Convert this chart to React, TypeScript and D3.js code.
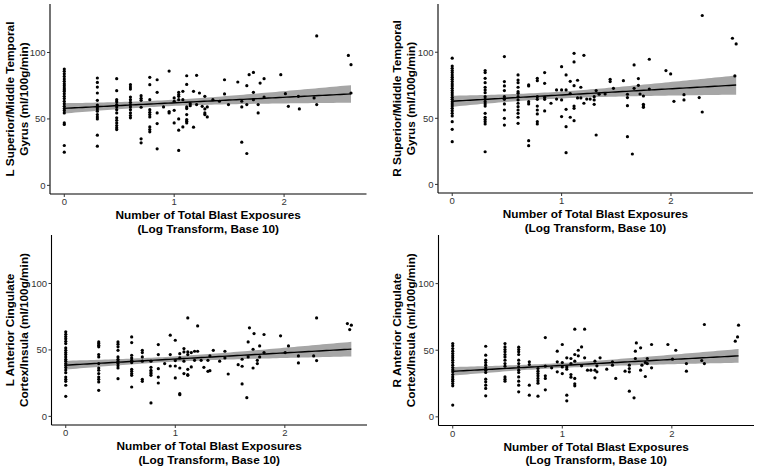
import React from "react";
import * as d3 from "d3";

// ---- Data: [x (log10 blast exposures), y values at that x] ----
const lSTG: [number, number[]][] = [
  [0, [87.5, 85.8, 84, 82, 80, 78.3, 76.5, 75, 73.3, 72, 70.8, 69, 67, 65.3, 63.3, 61.5, 59.5, 57.8, 56.3, 54.5, 47, 45.8, 30, 25]],
  [0.301, [80.8, 77.5, 74, 69.5, 64, 60.5, 59, 57.5, 55.8, 53.3, 51.5, 50, 37.8, 29.5]],
  [0.477, [80.3, 71.3, 64.5, 63, 60.8, 59, 57, 54.5, 50.8, 49, 47, 45, 43.3, 42]],
  [0.602, [75.8, 74, 72.5, 66.5, 64.5, 62.5, 60.8, 59, 57, 54.5, 52.5, 50.8]],
  [0.699, [67.5, 65.5, 64, 58.8, 35, 32]],
  [0.778, [81.3, 75.8, 64.5, 57, 55, 53.3, 51.5, 44, 42, 40.3]],
  [0.845, [79.5, 70, 54.5, 46.5, 27.5]],
  [0.903, [59]],
  [0.954, [86, 55.5, 54.5]],
  [1, [65.8, 63.3, 56.5, 47]],
  [1.041, [70, 68.3, 67, 64.5, 50, 41.5, 26.3]],
  [1.079, [70.8, 64.5, 44]],
  [1.114, [82.5, 76, 59, 57.8, 53.3, 49.5, 48.3, 47]],
  [1.146, [61.5, 60]],
  [1.176, [70.8, 43.8]],
  [1.204, [82.8, 60.8]],
  [1.23, [69.5]],
  [1.255, [59.5]],
  [1.279, [67, 57.5, 54.5, 53.3]],
  [1.301, [59, 51.5]],
  [1.352, [64.5]],
  [1.412, [63.3]],
  [1.458, [79.5, 68.8]],
  [1.494, [60.8]],
  [1.579, [77.8]],
  [1.615, [63.3, 59, 32.5]],
  [1.661, [75, 60.8, 24]],
  [1.682, [83.3]],
  [1.721, [85, 70, 64.5]],
  [1.764, [60.8, 54.5]],
  [1.782, [77]],
  [1.818, [80.3, 66.5]],
  [1.97, [83.3]],
  [2.012, [69]],
  [2.039, [59.5]],
  [2.13, [67]],
  [2.139, [57.5]],
  [2.273, [65.8]],
  [2.297, [112.5, 60.8]],
  [2.585, [97.8]],
  [2.609, [90.8, 69.5]],
];

const rSTG: [number, number[]][] = [
  [0, [95.5, 89.6, 87.9, 86.1, 84.6, 82.8, 81.1, 79.5, 77.8, 76, 74.5, 72.7, 71, 69.4, 67.7, 65.9, 64.4, 62.6, 60.9, 59.3, 57.6, 55.8, 53.8, 51.8, 47.5, 41.7, 32.3]],
  [0.301, [86.1, 84.6, 80.3, 77, 73.5, 71.5, 69.4, 66.4, 64.4, 62.6, 60.9, 59.3, 53.8, 50.8, 49.2, 47.5, 45.7, 24.7]],
  [0.477, [96.7, 77.8, 74.5, 71, 66.4, 64.4, 60.9, 56.3, 50, 44.9]],
  [0.602, [82.8, 79, 77, 73.5, 70.2, 68.9, 66.4, 63.9, 61.4, 58.8, 56.3, 53.8, 50.8, 46.2]],
  [0.699, [75.3, 74.5, 62.6, 60.9, 33.1, 29.3]],
  [0.778, [80.3, 78.5, 66.4, 64.4, 59.3, 56.3, 53.3, 47.5, 45.7]],
  [0.845, [84.6, 76.5, 65.9, 64.4, 55.6]],
  [0.903, [61.4]],
  [0.954, [71.5, 64.6]],
  [1, [89.1, 71.5, 63.9, 51.3]],
  [1.041, [82.8, 71.5, 56.8, 43.7, 24]],
  [1.079, [78, 68.7, 50.8]],
  [1.114, [99.2, 92.7, 74.7, 59.3, 57.6, 48.2]],
  [1.146, [78.8, 65.4]],
  [1.176, [73.5, 65.4]],
  [1.204, [97.7, 61.4]],
  [1.23, [64.6]],
  [1.261, [64.6]],
  [1.298, [66.4, 63.9, 60.6]],
  [1.316, [71, 37.4]],
  [1.343, [68.2]],
  [1.398, [68.4]],
  [1.444, [77.8, 79.5]],
  [1.474, [72.7]],
  [1.565, [78.5]],
  [1.602, [68.2, 65.7, 59.6, 36.1]],
  [1.647, [23]],
  [1.663, [90.4, 72.7]],
  [1.702, [80.1, 75]],
  [1.717, [68.4]],
  [1.748, [66.9, 60.6, 59.3, 58.3]],
  [1.802, [94.7, 72.2]],
  [1.954, [86.1]],
  [1.997, [83.6]],
  [2.027, [62.9]],
  [2.119, [67.9, 63.9]],
  [2.258, [65.7]],
  [2.286, [127.8, 54.8]],
  [2.562, [110.6]],
  [2.584, [82.1]],
  [2.596, [106.3]],
];

const lACC: [number, number[]][] = [
  [0, [63.6, 61.8, 60.1, 58.5, 56.5, 54.8, 51.5, 49.7, 48, 46.5, 44.7, 43, 41.5, 39.7, 38.4, 36.7, 34.9, 32.9, 29.6, 27.9, 26.4, 23.4, 15.1]],
  [0.301, [56, 54.8, 53.5, 52.3, 46.5, 44.7, 39.7, 36.4, 34.7, 32.2, 29.6, 27.9, 25.9, 19.6]],
  [0.477, [56, 54.3, 52.3, 49.7, 44.7, 43, 41.5, 39.7, 38, 36.4, 28.4]],
  [0.602, [59.8, 55.5, 46, 44, 42.2, 40.5, 35.4, 33.9, 32.2, 30.9, 22.1]],
  [0.699, [49.7, 48, 44.7, 41.5, 27.9, 26.4]],
  [0.778, [41.5, 36.9, 34.7, 33.4, 32.2, 30.9, 10.1]],
  [0.845, [54, 46.5, 35.9, 29.6, 25.1]],
  [0.903, [39.7]],
  [0.954, [61.1, 46.5, 37.9]],
  [1, [57.3, 42, 37.9, 28.9]],
  [1.041, [47.2, 44, 36.4, 17.1, 16.3]],
  [1.079, [51, 48.5, 41.5, 32.2]],
  [1.114, [74.1, 48.5, 46.5, 35.4, 31.4, 30.9]],
  [1.146, [48, 37.2]],
  [1.176, [49, 42.2]],
  [1.204, [68.1, 49]],
  [1.236, [42.2]],
  [1.261, [36.9]],
  [1.298, [42.2, 33.9]],
  [1.316, [45.5, 34.4]],
  [1.347, [49.7]],
  [1.405, [41.5]],
  [1.453, [49, 44]],
  [1.483, [31.9]],
  [1.574, [38.9]],
  [1.61, [43, 37.7, 24.4]],
  [1.653, [14.1]],
  [1.665, [56, 44.7]],
  [1.677, [66.6]],
  [1.71, [50.5, 36.4]],
  [1.719, [62.3]],
  [1.749, [42.2, 39.7]],
  [1.77, [53, 44.7]],
  [1.81, [61.6, 48]],
  [1.961, [60.6]],
  [2.003, [48]],
  [2.033, [53]],
  [2.124, [45.5, 40.2]],
  [2.263, [45.5]],
  [2.29, [74.1, 42]],
  [2.571, [69.8]],
  [2.592, [65.3]],
  [2.607, [68.6]],
];

const rACC: [number, number[]][] = [
  [0, [55, 53.3, 51.3, 49.3, 47.5, 45.8, 44.3, 42.5, 40.8, 38.8, 37, 35.3, 33.8, 31.8, 30, 28.3, 26.8, 25, 23.3, 8.8]],
  [0.301, [53, 46.3, 42.5, 40.8, 38.8, 36.8, 35, 33.3, 28.3, 26.3, 23.8, 21.3, 15.8]],
  [0.477, [55, 52.5, 50.5, 48.8, 46.8, 45, 42.5, 40, 38, 30, 28.3, 26.8]],
  [0.602, [52.3, 50.5, 48.8, 46.8, 42.5, 40, 37.5, 35, 33.3, 30, 26.8, 23.8, 18.8]],
  [0.699, [41.3, 39.3, 23.8, 16.3]],
  [0.778, [36.3, 34.3, 32.5, 30.8, 28.8, 27, 25.3, 15.5]],
  [0.845, [59.5, 38, 30.8, 28.8, 20.3]],
  [0.903, [36.8]],
  [0.954, [49.3, 41.3, 33.8]],
  [1, [54.3, 40.8, 37.5, 32.5]],
  [1.041, [44.3, 37.5, 35.8, 16.3, 12]],
  [1.079, [43.8, 40, 31.8, 29.8]],
  [1.114, [65.8, 46.8, 41.8, 28.8, 24.8, 23.3]],
  [1.146, [50, 45.8]],
  [1.176, [52.5, 38.3]],
  [1.204, [65.8, 44.3]],
  [1.23, [35]],
  [1.261, [35]],
  [1.298, [41.8, 35, 29.3]],
  [1.316, [38.3, 33.8]],
  [1.345, [44.3]],
  [1.406, [35.8]],
  [1.458, [41.3, 38.8]],
  [1.488, [28.8]],
  [1.573, [34.3]],
  [1.612, [38.8, 36.3, 33.8, 19.3]],
  [1.655, [14.3]],
  [1.667, [49.3, 43.8]],
  [1.676, [55.5]],
  [1.715, [51.8, 35]],
  [1.727, [38.8]],
  [1.758, [40.8, 30.3]],
  [1.776, [43.8, 40]],
  [1.815, [54.3, 36.8]],
  [1.964, [54.3]],
  [2.006, [43.3]],
  [2.036, [50]],
  [2.133, [40, 34.3]],
  [2.273, [42.3]],
  [2.297, [69.3, 40]],
  [2.579, [56.8]],
  [2.6, [60]],
  [2.609, [68.8]],
];

const xTicks = [0, 1, 2];
const yTicks = [0, 50, 100];
const xDomain: [number, number] = [-0.13, 2.75];
const yDomain: [number, number] = [-6.5, 136.5];
const xTitle = ["Number of Total Blast Exposures", "(Log Transform, Base 10)"];
const yTitles = [
  ["L Superior/Middle Temporal", "Gyrus (ml/100g/min)"],
  ["R Superior/Middle Temporal", "Gyrus (ml/100g/min)"],
  ["L Anterior Cingulate", "Cortex/Insula (ml/100g/min)"],
  ["R Anterior Cingulate", "Cortex/Insula (ml/100g/min)"],
];
const T_CRIT = 1.975;

// ---- layout ----
const panels = [
  { data: lSTG, left: 50, right: 366.5, top: 4, bottom: 194, tx: [14.2, 28.2], titles: yTitles[0] },
  { data: rSTG, left: 438, right: 753, top: 4, bottom: 193, tx: [401, 415], titles: yTitles[1] },
  { data: lACC, left: 51.5, right: 367, top: 235, bottom: 425, tx: [14.2, 28.2], titles: yTitles[2] },
  { data: rACC, left: 438.5, right: 754, top: 235, bottom: 425.5, tx: [401, 415], titles: yTitles[3] },
];

const FONT = "'Liberation Sans', Arial, Helvetica, sans-serif";

function fitLine(pts: [number, number][]) {
  const n = pts.length;
  const mx = d3.mean(pts, (p) => p[0])!;
  const my = d3.mean(pts, (p) => p[1])!;
  const sxx = d3.sum(pts, (p) => (p[0] - mx) ** 2);
  const sxy = d3.sum(pts, (p) => (p[0] - mx) * (p[1] - my));
  const b = sxy / sxx;
  const a = my - b * mx;
  const sse = d3.sum(pts, (p) => (p[1] - a - b * p[0]) ** 2);
  const s = Math.sqrt(sse / (n - 2));
  const pred = (x: number) => a + b * x;
  const se = (x: number) => s * Math.sqrt(1 / n + (x - mx) ** 2 / sxx);
  return { pred, se };
}

function Panel({ p }: { p: (typeof panels)[number] }) {
  const pts: [number, number][] = p.data.flatMap(([x, ys]) => ys.map((y) => [x, y] as [number, number]));
  const x = d3.scaleLinear().domain(xDomain).range([p.left, p.right]);
  const y = d3.scaleLinear().domain(yDomain).range([p.bottom, p.top]);
  const { pred, se } = fitLine(pts);
  const [xmin, xmax] = d3.extent(pts, (d) => d[0]) as [number, number];
  const grid = d3.range(0, 81).map((i) => xmin + ((xmax - xmin) * i) / 80);
  const band = d3
    .area<number>()
    .x((v) => x(v))
    .y0((v) => y(pred(v) - T_CRIT * se(v)))
    .y1((v) => y(pred(v) + T_CRIT * se(v)))(grid);
  const line = d3
    .line<number>()
    .x((v) => x(v))
    .y((v) => y(pred(v)))(grid);
  const cx = (p.left + p.right) / 2;
  const cy = (p.top + p.bottom) / 2;
  return (
    <g>
      <path d={band!} fill="#a6a6a6" />
      {pts.map((d, i) => (
        <circle key={i} cx={x(d[0])} cy={y(d[1])} r={1.6} fill="#000" />
      ))}
      <path d={line!} fill="none" stroke="#000" strokeWidth={1.4} />
      {/* axes */}
      <line x1={p.left} x2={p.left} y1={p.top} y2={p.bottom} stroke="#000" strokeWidth={1.1} />
      <line x1={p.left} x2={p.right} y1={p.bottom} y2={p.bottom} stroke="#000" strokeWidth={1.1} />
      {xTicks.map((t) => (
        <g key={"x" + t}>
          <line x1={x(t)} x2={x(t)} y1={p.bottom} y2={p.bottom + 3} stroke="#333" strokeWidth={1} />
          <text x={x(t)} y={p.bottom + 11} textAnchor="middle" fontSize={9.5} fill="#333" fontFamily={FONT}>
            {t}
          </text>
        </g>
      ))}
      {yTicks.map((t) => (
        <g key={"y" + t}>
          <line x1={p.left - 3} x2={p.left} y1={y(t)} y2={y(t)} stroke="#333" strokeWidth={1} />
          <text x={p.left - 4.5} y={y(t) + 3.4} textAnchor="end" fontSize={9.5} fill="#333" fontFamily={FONT}>
            {t}
          </text>
        </g>
      ))}
      {xTitle.map((s, i) => (
        <text key={"xt" + i} x={cx} y={p.bottom + 25 + i * 13.5} textAnchor="middle" fontSize={11.8} fontWeight="bold" fill="#000" fontFamily={FONT}>
          {s}
        </text>
      ))}
      {p.titles.map((s, i) => (
        <text key={"yt" + i} transform={`translate(${p.tx[i]},${cy}) rotate(-90)`} textAnchor="middle" fontSize={11.8} fontWeight="bold" fill="#000" fontFamily={FONT}>
          {s}
        </text>
      ))}
    </g>
  );
}

export default function App() {
  return (
    <svg width={760} height={469} style={{ position: "absolute", left: 0, top: 0, background: "#fff" }}>
      <rect width={760} height={469} fill="#fff" />
      {panels.map((p, i) => (
        <Panel key={i} p={p} />
      ))}
    </svg>
  );
}
